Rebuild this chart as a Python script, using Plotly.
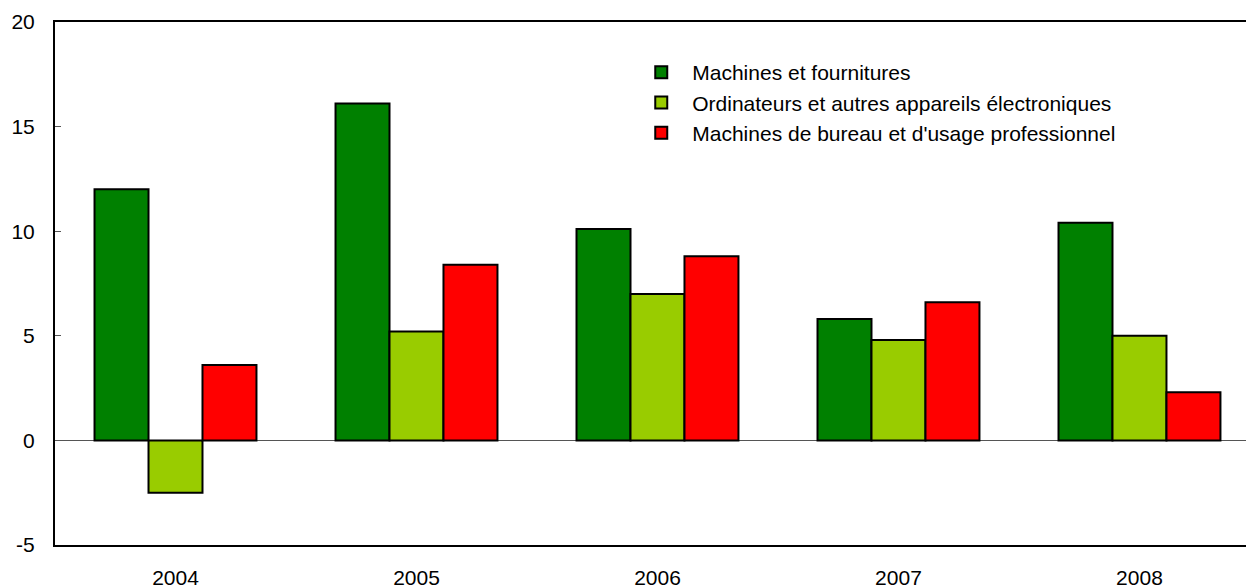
import plotly.graph_objects as go

years = ["2004", "2005", "2006", "2007", "2008"]
series_names = [
    "Machines et fournitures",
    "Ordinateurs et autres appareils électroniques",
    "Machines de bureau et d'usage professionnel",
]
machines = [12.0, 16.1, 10.1, 5.8, 10.4]
ordinateurs = [-2.5, 5.2, 7.0, 4.8, 5.0]
bureau = [3.6, 8.4, 8.8, 6.6, 2.3]
colors = ["#008000", "#99CC00", "#FF0000"]
y_ticks = [-5, 0, 5, 10, 15, 20]
y_ticktext = ["-5", "0", "5", "10", "15", "20"]

fig = go.Figure()
for name, vals, col in zip(series_names, [machines, ordinateurs, bureau], colors):
    fig.add_trace(go.Bar(
        x=years, y=vals, name=name,
        marker=dict(color=col, line=dict(color="black", width=2)),
    ))

fig.update_layout(
    width=1246, height=588,
    margin=dict(l=55, r=0, t=22, b=43, autoexpand=False),
    paper_bgcolor="white", plot_bgcolor="white",
    barmode="group", bargap=0.328, bargroupgap=0,
    font=dict(family="Liberation Sans, Arial, sans-serif", size=21, color="black"),
    legend=dict(
        x=0.483, y=0.9425, xanchor="left", yanchor="top",
        font=dict(size=21), itemwidth=52,
        bgcolor="rgba(0,0,0,0)",
    ),
    xaxis=dict(
        type="category", range=[-0.5, 4.442], automargin=False,
        showline=True, linecolor="black", linewidth=2, mirror=True,
        ticks="", showgrid=False, ticklabelstandoff=13,
    ),
    yaxis=dict(
        range=[-5, 20], tickvals=y_ticks, ticktext=y_ticktext, automargin=False,
        showline=True, linecolor="black", linewidth=2,
        ticks="inside", ticklen=6, tickcolor="#555", tickwidth=1,
        showgrid=False, zeroline=True, zerolinecolor="#555", zerolinewidth=1,
        ticklabelstandoff=14,
    ),
)

fig.write_html("out.html", config={"displayModeBar": False},
               post_script="document.body.style.margin='0';")
